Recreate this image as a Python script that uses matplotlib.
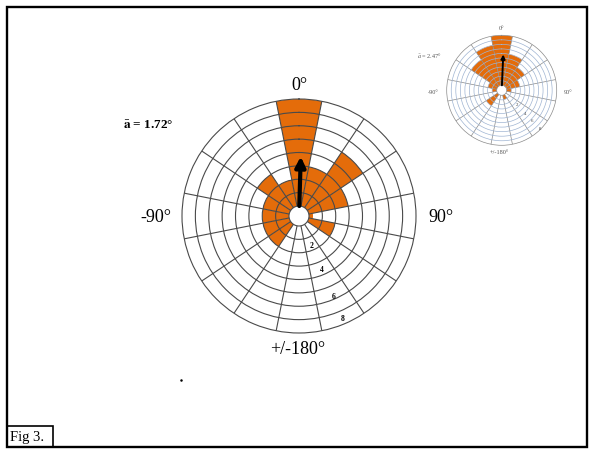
import numpy as np
import matplotlib
matplotlib.use("Agg")
import matplotlib.pyplot as plt
from matplotlib.patches import Rectangle

plt.rcParams["font.family"] = ["Liberation Serif", "DejaVu Serif"]
plt.rcParams["mathtext.fontset"] = "stix"

# sector centres, clockwise from north (deg)
sector_deg = [0, 22.5, 45, 67.5, 90, 112.5, 135, 157.5,
              180, 202.5, 225, 247.5, 270, 292.5, 315, 337.5]

# main rose counts per sector
main_counts = [8, 3, 5, 3, 0.3, 2, 0, 0, 0, 0, 2, 2, 2, 2, 3, 2]
main_mean_deg = 1.72
main_mean_len = 3.7

# small rose (top right) counts per sector
inset_counts = [11, 7, 5, 3, 1, 0, 0, 1, 0, 0, 3, 0, 1, 2, 7, 9]
inset_mean_deg = 2.47
inset_mean_len = 6.8

ring_labels = ["2", "4", "6", "8"]
dir_labels = ["0°", "90°", "-90°", "+/-180°"]

ORANGE = "#E46C0A"
W, H = 592, 449

fig = plt.figure(figsize=(W / 100, H / 100), dpi=100)

# page frame in pixel coords
frame = fig.add_axes([0, 0, 1, 1], zorder=0)
frame.set_xlim(0, W)
frame.set_ylim(H, 0)
frame.axis("off")
frame.add_patch(Rectangle((7, 7), 580, 440, fill=False, lw=1.7, ec="black"))
frame.add_patch(Rectangle((7, 426), 46, 21, fill=False, lw=1.2, ec="black"))
frame.text(10, 437, "Fig 3.", fontsize=10.5, va="center", ha="left")
frame.plot([181], [380], marker="o", ms=0.8, color="black")


def rose(cx, cy, rad, hole, rmax, counts, ring_col, spoke_col, lw):
    ax = fig.add_axes([(cx - rad) / W, (H - cy - rad) / H, 2 * rad / W, 2 * rad / H],
                      projection="polar", zorder=2)
    ax.set_theta_zero_location("N")
    ax.set_theta_direction(-1)
    width = np.deg2rad(22.5)
    ax.bar(np.deg2rad(sector_deg), counts, width=width, bottom=0,
           color=ORANGE, edgecolor="none", zorder=1)
    ax.set_ylim(0, rmax)
    ax.set_rorigin(-hole * rmax / (rad - hole))
    edges = [d + 11.25 for d in sector_deg]
    ax.set_thetagrids(edges, labels=[])
    ax.set_rgrids(np.arange(1, rmax), labels=[])
    ax.xaxis.grid(True, color=spoke_col, lw=lw)
    ax.yaxis.grid(True, color=ring_col, lw=lw)
    ax.set_axisbelow(False)
    for sp in ax.spines.values():
        sp.set_color(spoke_col)
        sp.set_linewidth(lw)
    ax.patch.set_facecolor("white")
    return ax


# main rose
ax = rose(299, 216, 117, 10, 8, main_counts, "#4a4a4a", "#4a4a4a", 0.8)
th = np.deg2rad(main_mean_deg)
ax.annotate("", xy=(th, main_mean_len), xytext=(th, 0),
            arrowprops=dict(arrowstyle="-|>", lw=3, color="black",
                            mutation_scale=15, shrinkA=0, shrinkB=0), zorder=5)
for lab, r in zip(ring_labels, [1.7, 3.6, 5.8, 7.6]):
    ax.text(np.deg2rad(157), r, lab, fontsize=5.5, fontweight="bold",
            ha="center", va="center", zorder=6)

frame.text(299, 86, dir_labels[0], fontsize=13, ha="center", va="center")
frame.text(441, 218, dir_labels[1], fontsize=13, ha="center", va="center")
frame.text(156, 218, dir_labels[2], fontsize=13, ha="center", va="center")
frame.text(298, 350, dir_labels[3], fontsize=13, ha="center", va="center")
frame.text(148, 126, r"$\bar{\mathbf{a}}$ = 1.72°", fontsize=9.5, fontweight="bold",
           ha="center", va="center")

# inset rose
axi = rose(501.7, 90.3, 55, 5, 11, inset_counts, "#9fb4d2", "#8a8a8a", 0.5)
th = np.deg2rad(inset_mean_deg)
axi.annotate("", xy=(th, inset_mean_len), xytext=(th, 0),
             arrowprops=dict(arrowstyle="-|>", lw=1.4, color="black",
                             mutation_scale=6, shrinkA=0, shrinkB=0), zorder=5)
for lab, r in zip(ring_labels, [3.6, 6.2, 8.4, 10.9]):
    axi.text(np.deg2rad(135), r, lab, fontsize=3.5, color="#444",
             ha="center", va="center", zorder=6)

frame.text(502, 29, dir_labels[0], fontsize=4.5, color="#555", ha="center", va="center")
frame.text(568, 93, dir_labels[1], fontsize=4.5, color="#555", ha="center", va="center")
frame.text(433, 93, dir_labels[2], fontsize=4.5, color="#555", ha="center", va="center")
frame.text(499, 153, dir_labels[3], fontsize=4.5, color="#555", ha="center", va="center")
frame.text(429, 56, r"$\bar{a}$ = 2.47°", fontsize=4.5, color="#555",
           ha="center", va="center")

fig.savefig("out.png", dpi=100)
